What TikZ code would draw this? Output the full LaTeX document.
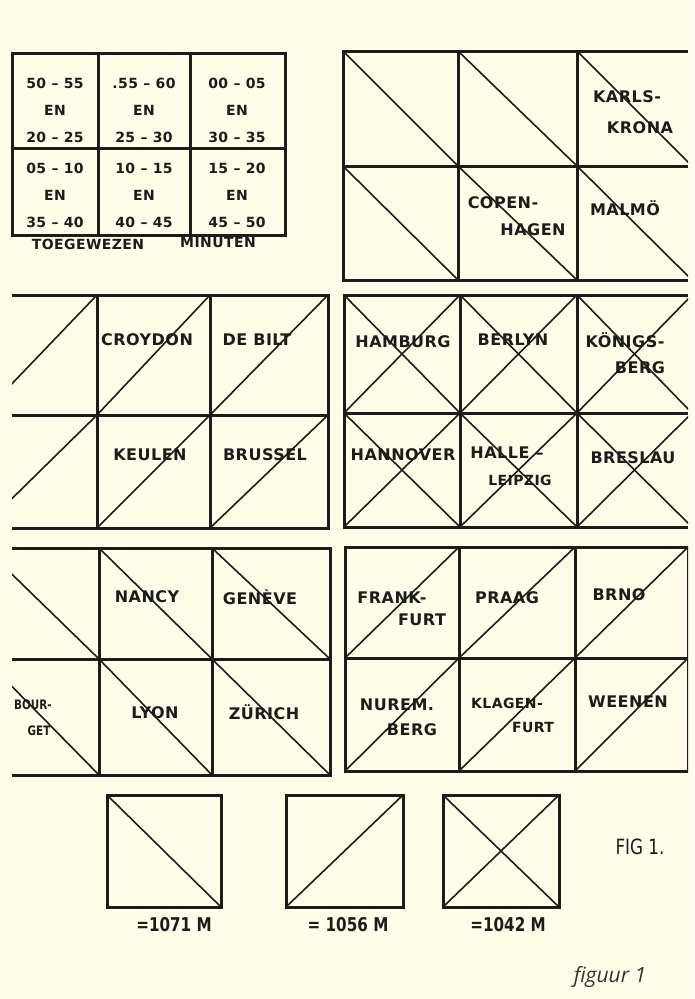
\documentclass[tikz,border=0pt]{standalone}
\usepackage{fontspec}
\setmainfont{DejaVu Sans}
\newfontfamily\handfont[LetterSpace=3]{DejaVu Sans}
\newfontfamily\stampfont[FakeStretch=0.8]{DejaVu Sans}
\newfontfamily\capfont{Open Sans}
\definecolor{papier}{HTML}{FFFDE8}
\definecolor{inkt}{HTML}{1C1C1C}

\begin{document}
\begin{tikzpicture}[x=1pt, y=-1pt,
    rand/.style={draw=inkt, line width=3pt},
    diag/.style={draw=inkt, line width=1.6pt},
    stad/.style={font=\handfont\bfseries\fontsize{16}{18}\selectfont, text=inkt, inner sep=0pt},
    klein/.style={stad, font=\handfont\bfseries\fontsize{14}{16}\selectfont},
    smal/.style={stad, font=\stampfont\bfseries\fontsize{13}{15}\selectfont},
    minuut/.style={font=\handfont\bfseries\fontsize{14}{27}\selectfont, text=inkt, align=center, inner sep=0pt},
    maat/.style={font=\stampfont\bfseries\fontsize{19}{21}\selectfont, text=inkt, inner sep=0pt}]
  \fill[papier] (0,0) rectangle (694,999);
  \useasboundingbox (0,0) rectangle (694,999);

  % toegewezen minuten
  \draw[rand] (12,53) rectangle (285,235);
  \draw[rand] (98,53) -- (98,235) (190,53) -- (190,235) (12,148) -- (285,148);
  \foreach \x/\y/\txt [count=\i] in {55/110/{50 – 55\\EN\\20 – 25}, 144/110/{.55 – 60\\EN\\25 – 30},
      237/110/{00 – 05\\EN\\30 – 35}, 55/195/{05 – 10\\EN\\35 – 40},
      144/195/{10 – 15\\EN\\40 – 45}, 237/195/{15 – 20\\EN\\45 – 50}}
    \node[minuut] (vak\i) at (\x,\y) {\txt};
  \node[klein] (toegewezen) at (88,244) {TOEGEWEZEN};
  \node[klein] (minuten) at (218,242) {MINUTEN};

  \begin{scope}
    \clip (12,0) rectangle (688,999);
    % boven rechts
    \draw[rand] (688,51) -- (343,51) -- (343,280) -- (688,280);
    \draw[rand] (343,166) -- (688,166) (458,51) -- (458,280) (577,51) -- (577,280);
    \foreach \xa/\xb in {343/458, 458/577, 577/692}
      \foreach \ya/\yb in {51/166, 166/280}
        \draw[diag] (\xa,\ya) -- (\xb,\yb);
    % midden links
    \draw[rand] (12,295) -- (328,295) -- (328,528) -- (12,528);
    \draw[rand] (12,415) -- (328,415) (97,295) -- (97,528) (210,295) -- (210,528);
    \foreach \xa/\xb in {-18/97, 97/210, 210/328}
      \foreach \ya/\yb in {295/415, 415/528}
        \draw[diag] (\xa,\yb) -- (\xb,\ya);
    % midden rechts
    \draw[rand] (688,295) -- (344,295) -- (344,527) -- (688,527);
    \draw[rand] (344,413) -- (688,413) (460,295) -- (460,527) (577,295) -- (577,527);
    \foreach \xa/\xb in {344/460, 460/577, 577/692}
      \foreach \ya/\yb in {295/413, 413/527}
        \draw[diag] (\xa,\ya) -- (\xb,\yb) (\xa,\yb) -- (\xb,\ya);
    % onder links
    \draw[rand] (12,548) -- (330,548) -- (330,775) -- (12,775);
    \draw[rand] (12,659) -- (330,659) (99,548) -- (99,775) (212,548) -- (212,775);
    \foreach \xa/\xb in {-15/99, 99/212, 212/330}
      \foreach \ya/\yb in {548/659, 659/775}
        \draw[diag] (\xa,\ya) -- (\xb,\yb);
    % onder rechts
    \draw[rand] (345,547) rectangle (688,771);
    \draw[rand] (345,658) -- (688,658) (459,547) -- (459,771) (575,547) -- (575,771);
    \foreach \xa/\xb in {345/459, 459/575, 575/688}
      \foreach \ya/\yb in {547/658, 658/771}
        \draw[diag] (\xa,\yb) -- (\xb,\ya);
  \end{scope}

  % steden
  \node[stad] (karls) at (627,97) {KARLS-};
  \node[stad] (krona) at (640,128) {KRONA};
  \node[stad] (copen) at (503,203) {COPEN-};
  \node[stad] (hagen) at (533,230) {HAGEN};
  \node[stad] (malmo) at (625,208) {MALMÖ};
  \node[stad] (croydon) at (147,340) {CROYDON};
  \node[stad] (debilt) at (257,340) {DE BILT};
  \node[stad] (keulen) at (150,455) {KEULEN};
  \node[stad] (brussel) at (265,455) {BRUSSEL};
  \node[stad] (hamburg) at (403,342) {HAMBURG};
  \node[stad] (berlyn) at (513,340) {BERLYN};
  \node[stad] (konigs) at (625,340) {KÖNIGS-};
  \node[stad] (berga) at (640,368) {BERG};
  \node[stad] (hannover) at (403,455) {HANNOVER};
  \node[stad] (halle) at (507,453) {HALLE –};
  \node[klein] (leipzig) at (520,480) {LEIPZIG};
  \node[stad] (breslau) at (633,458) {BRESLAU};
  \node[stad] (nancy) at (147,597) {NANCY};
  \node[stad] (geneve) at (260,597) {GENÈVE};
  \node[smal] (bour) at (33,705) {BOUR-};
  \node[smal] (get) at (39,731) {GET};
  \node[stad] (lyon) at (155,713) {LYON};
  \node[stad] (zurich) at (264,712) {ZÜRICH};
  \node[stad] (frank) at (392,598) {FRANK-};
  \node[stad] (furta) at (422,620) {FURT};
  \node[stad] (praag) at (507,598) {PRAAG};
  \node[stad] (brno) at (619,595) {BRNO};
  \node[stad] (nurem) at (397,705) {NUREM.};
  \node[stad] (bergb) at (412,730) {BERG};
  \node[klein] (klagen) at (507,703) {KLAGEN-};
  \node[klein] (furtb) at (533,727) {FURT};
  \node[stad] (weenen) at (628,702) {WEENEN};

  % maatvakken
  \draw[rand] (107,795) rectangle (221,907);
  \draw[diag] (107,795) -- (221,907);
  \draw[rand] (286,795) rectangle (403,907);
  \draw[diag] (286,907) -- (403,795);
  \draw[rand] (443,795) rectangle (559,907);
  \draw[diag] (443,795) -- (559,907) (443,907) -- (559,795);
  \node[maat] (m1071) at (174,925) {=1071 M};
  \node[maat] (m1056) at (348,925) {= 1056 M};
  \node[maat] (m1042) at (508,925) {=1042 M};
  \node[font=\stampfont\fontsize{21}{23}\selectfont, text=inkt] (fig) at (640,847) {FIG 1.};
  \node[font=\capfont\itshape\fontsize{21}{24}\selectfont, text=inkt!90] (figuur) at (610,977) {figuur 1};
\end{tikzpicture}
\end{document}
